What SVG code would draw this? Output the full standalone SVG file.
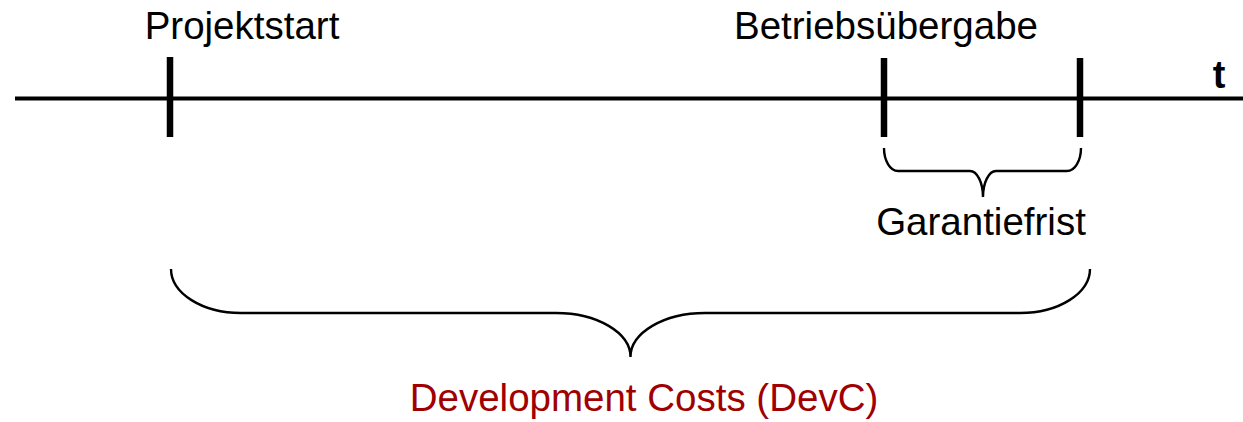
<svg xmlns="http://www.w3.org/2000/svg" width="1243" height="422" viewBox="0 0 1243 422">
  <style>
    .label { font-family: "Liberation Sans", Arial, sans-serif; font-size: 38.5px; fill: #000; text-anchor: middle; }
    .cost { fill: #a00000; }
    .axis { stroke: #000; stroke-width: 4; fill: none; }
    .tick { stroke: #000; stroke-width: 6.5; fill: none; }
    .brace { stroke: #000; stroke-width: 2.4; fill: none; }
  </style>
  <rect width="1243" height="422" fill="#fff"/>

  <!-- time axis -->
  <g id="timeline">
    <line class="axis" x1="15" y1="98.5" x2="1243" y2="98.5"/>
    <text x="1219" y="88" font-family="Liberation Sans, Arial, sans-serif" font-size="38" font-weight="bold" text-anchor="middle">t</text>
  </g>

  <!-- milestones -->
  <g id="projektstart">
    <line class="tick" x1="170" y1="57" x2="170" y2="137"/>
    <text class="label" x="242" y="39">Projektstart</text>
  </g>
  <g id="betriebsuebergabe">
    <line class="tick" x1="884" y1="58" x2="884" y2="137"/>
    <text class="label" x="886" y="39">Betriebsübergabe</text>
  </g>
  <g id="garantieende">
    <line class="tick" x1="1080" y1="58" x2="1080" y2="137"/>
  </g>

  <!-- spans -->
  <g id="connectors">
    <path class="brace" d="M884,148 A14,23 0 0 0 898,171 H970 A13,26 0 0 1 983,197 A13,26 0 0 1 996,171 H1067 A14,23 0 0 0 1081,148"/>
    <path class="brace" d="M171,269 A70,44 0 0 0 241,313 H556 A74.5,44 0 0 1 630.5,357 A74.5,44 0 0 1 705,313 H1020 A70,44 0 0 0 1090,269"/>
  </g>

  <g id="garantiefrist">
    <text class="label" x="981" y="235">Garantiefrist</text>
  </g>
  <g id="devc">
    <text class="label cost" x="644" y="411">Development Costs (DevC)</text>
  </g>
</svg>
